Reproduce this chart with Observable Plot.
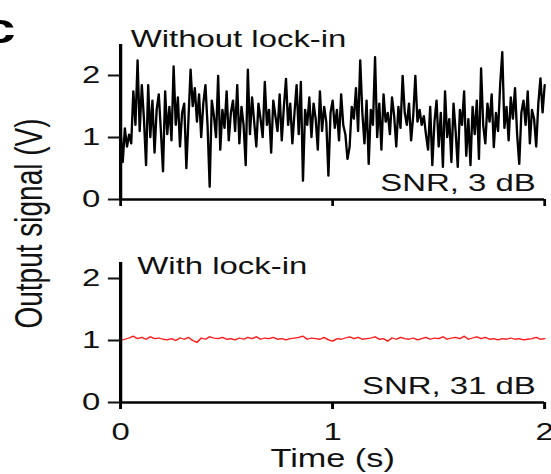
<!DOCTYPE html>
<html><head><meta charset="utf-8">
<script src="https://cdn.jsdelivr.net/npm/d3@7"></script>
<script src="https://cdn.jsdelivr.net/npm/@observablehq/plot@0.6"></script>
<style>
html,body{margin:0;padding:0;background:#fff;overflow:hidden;}
#chart svg [aria-label="fy-axis label"]{font-size:28px;}
#chart svg [aria-label="y-axis tick"], #chart svg [aria-label="x-axis tick"], #chart svg .tick line{stroke-width:2px;}
</style>
</head><body><div id="chart"></div>
<script>
// ---- data ----
const panels = ["Without lock-in", "With lock-in"];
const snrLabels = ["SNR, 3 dB", "SNR, 31 dB"];
const xTicks = [0, 1, 2];
const yTicks = [0, 1, 2];
const xLabel = "Time (s)";
const yLabel = "Output signal (V)";
const panelLetter = "c";
const timeStepWithout = 0.01; // s
const timeStepWith = 0.02;    // s
const axisTop = [2.5, 2.26];

const withoutLockIn = [
1.10,0.60,1.15,0.85,1.05,0.90,1.75,1.20,2.25,1.10,
1.85,1.30,0.55,1.85,1.00,1.60,0.75,1.45,1.70,1.10,
0.45,1.75,1.05,1.50,0.95,2.15,1.20,1.65,0.85,1.40,
1.55,0.50,1.30,2.10,1.50,1.80,1.25,1.70,1.00,1.55,
1.85,1.20,0.20,1.60,1.35,1.00,2.00,0.80,1.45,1.15,
1.75,0.95,1.40,1.60,1.10,1.85,0.90,1.50,1.20,0.55,
2.10,1.05,1.65,1.25,0.85,1.55,1.30,1.00,1.90,1.20,
1.45,0.75,1.60,1.35,1.10,1.70,0.95,1.50,1.95,1.20,
1.55,0.90,1.40,1.85,1.05,1.90,0.30,1.45,1.20,1.65,
1.00,1.55,1.30,0.80,1.75,1.10,1.50,1.25,0.38,1.40,
1.60,1.15,1.45,0.95,1.70,1.20,1.05,0.65,0.85,1.50,
1.30,1.80,1.10,2.25,1.40,0.90,1.60,0.57,1.45,1.20,
2.30,1.00,1.55,0.80,1.70,1.25,1.40,1.05,1.65,1.35,
0.85,1.50,1.15,2.00,1.40,1.20,1.55,0.95,1.35,2.00,
1.25,1.45,1.20,1.35,1.05,0.80,1.50,0.55,1.25,1.60,
0.85,1.40,0.52,1.75,1.00,1.30,0.60,1.55,1.10,0.52,
1.45,1.20,1.75,0.70,1.30,0.55,1.50,1.05,1.60,0.65,
2.12,1.20,0.90,1.55,1.25,1.70,0.84,1.40,1.10,1.85,
2.38,1.15,1.50,0.95,1.65,1.30,1.80,1.05,0.57,1.40,
1.60,1.20,1.75,0.90,1.45,1.30,0.85,1.55,1.96,1.40,
1.85
];

const withLockIn = [
1.00,1.02,1.04,1.07,1.03,1.05,1.02,1.06,1.03,1.04,
1.02,1.01,1.03,1.00,1.04,1.02,1.05,1.00,0.97,1.04,
1.02,1.06,1.04,1.03,1.05,1.02,1.03,1.01,1.04,1.02,
1.05,1.03,1.06,1.02,1.04,1.03,1.05,1.02,1.03,1.01,
1.03,1.04,1.05,1.07,1.02,1.04,1.03,1.02,1.05,1.01,
0.99,1.03,1.02,1.04,1.06,1.03,1.05,1.02,1.03,1.04,
1.06,1.02,1.03,0.99,1.04,1.02,1.05,1.03,1.02,1.04,
1.01,1.03,1.05,1.02,1.04,1.03,1.06,1.02,1.04,1.05,
1.03,1.07,1.02,1.04,1.06,1.03,1.05,1.02,1.03,1.01,
1.03,1.02,1.04,1.02,1.03,1.01,1.02,1.03,1.05,1.02,
1.03
];

// ---- tables for the library ----
const topData = withoutLockIn.map((v, i) => ({panel: panels[0], t: i * timeStepWithout, v}));
const bottomData = withLockIn.map((v, i) => ({panel: panels[1], t: i * timeStepWith, v}));
const axisExtent = panels.map((p, i) => ({panel: p, top: axisTop[i]}));
const snrData = panels.map((p, i) => ({panel: p, label: snrLabels[i]}));

const W = 402, H = 474, OUT_W = 551;
const font = "'Liberation Sans', Arial, Helvetica, sans-serif";

const svg = Plot.plot({
  width: W, height: H,
  marginLeft: 87.5, marginRight: 5.1, marginTop: 43, marginBottom: 71,
  style: {fontFamily: font, fontSize: "24px", color: "#111", background: "transparent", overflow: "visible"},
  x: {domain: [0, 2], ticks: xTicks, tickSize: 7, tickPadding: 13, tickFormat: d3.format("d"), label: null},
  y: {domain: [0, 2.5], ticks: yTicks, tickSize: 8.8, tickPadding: 6, tickFormat: d3.format("d"), label: null},
  fy: {domain: panels, paddingInner: 0.235, paddingOuter: 0, axis: "left", label: yLabel, labelAnchor: "center", labelOffset: 77, tickSize: 0, tickFormat: () => ""},
  marks: [
    Plot.lineY(topData, {x: "t", y: "v", fy: "panel", stroke: "#000", strokeWidth: 1.7}),
    Plot.lineY(bottomData, {x: "t", y: "v", fy: "panel", stroke: "#ff1a1a", strokeWidth: 1.3}),
    Plot.ruleY([0], {stroke: "#000", strokeWidth: 2.4}),
    Plot.ruleX(axisExtent, {x: 0, y1: 0, y2: "top", fy: "panel", stroke: "#000", strokeWidth: 2.4}),
    Plot.ruleX(xTicks, {y1: 0, y2: 0, insetBottom: -7, stroke: "#000", strokeWidth: 2}),
    Plot.text([panels[0]], {fy: d => d, text: d => d, frameAnchor: "top-left", textAnchor: "start", lineAnchor: "top", dx: 7.4, dy: -15, fontSize: 24, fill: "#111"}),
    Plot.text([panels[1]], {fy: d => d, text: d => d, frameAnchor: "top-left", textAnchor: "start", lineAnchor: "top", dx: 12.2, dy: 9.7, fontSize: 24, fill: "#111"}),
    Plot.text(snrData, {fy: "panel", text: "label", frameAnchor: "bottom-right", textAnchor: "end", lineAnchor: "top", dx: -6.6, dy: -26, fontSize: 24, fill: "#111"}),
    Plot.text([{panel: panels[1], label: xLabel}], {fy: "panel", text: "label", frameAnchor: "bottom", lineAnchor: "top", dy: 47, fontSize: 25, fill: "#111"}),
    Plot.text([{panel: panels[0], label: panelLetter}], {fy: "panel", text: "label", frameAnchor: "top-left", textAnchor: "start", lineAnchor: "top", dx: -100, dy: -31, fontSize: 42, fontWeight: "bold", fill: "#000"})
  ]
});

svg.setAttribute("width", OUT_W);
svg.setAttribute("height", H);
svg.setAttribute("preserveAspectRatio", "none");
svg.style.width = OUT_W + "px";
svg.style.height = H + "px";
svg.style.maxWidth = "none";
document.getElementById("chart").appendChild(svg);
</script>
</body></html>
